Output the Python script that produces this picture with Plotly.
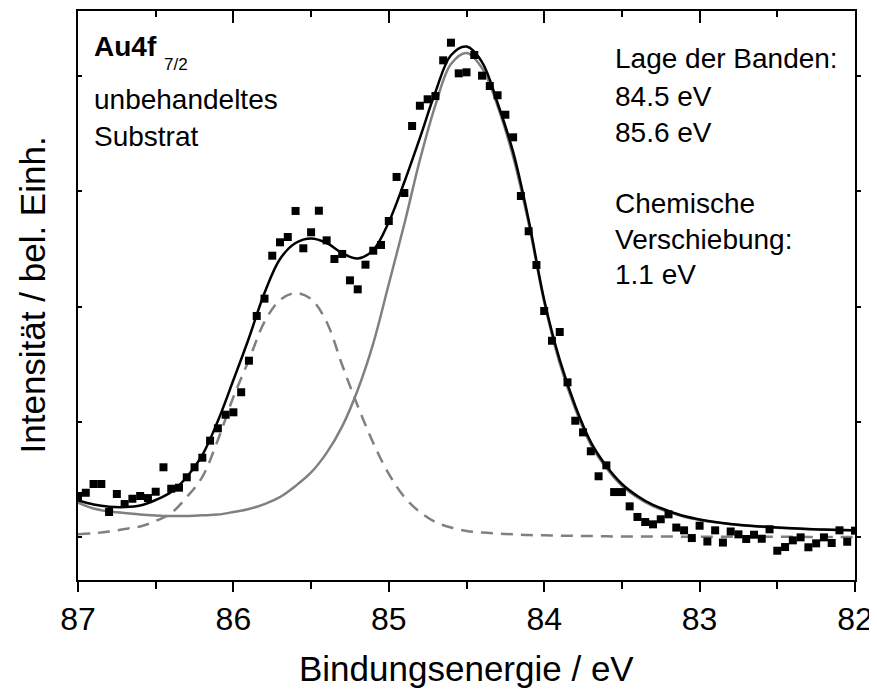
import plotly.graph_objects as go

# ---------------- data ----------------
energy_pts = [87.00, 86.95, 86.90, 86.85, 86.80, 86.75, 86.70, 86.65, 86.60, 86.55,
              86.50, 86.45, 86.40, 86.35, 86.30, 86.25, 86.20, 86.15, 86.10, 86.05,
              86.00, 85.95, 85.90, 85.85, 85.80, 85.75, 85.70, 85.65, 85.60, 85.55,
              85.50, 85.45, 85.40, 85.35, 85.30, 85.25, 85.20, 85.15, 85.10, 85.05,
              85.00, 84.95, 84.90, 84.85, 84.80, 84.75, 84.70, 84.65, 84.60, 84.55,
              84.50, 84.45, 84.40, 84.35, 84.30, 84.25, 84.20, 84.15, 84.10, 84.05,
              84.00, 83.95, 83.90, 83.85, 83.80, 83.75, 83.70, 83.65, 83.60, 83.55,
              83.50, 83.45, 83.40, 83.35, 83.30, 83.25, 83.20, 83.15, 83.10, 83.05,
              83.00, 82.95, 82.90, 82.85, 82.80, 82.75, 82.70, 82.65, 82.60, 82.55,
              82.50, 82.45, 82.40, 82.35, 82.30, 82.25, 82.20, 82.15, 82.10, 82.05,
              82.00]

intensity_pts = [0.356, 0.384, 0.460, 0.460, 0.217, 0.373, 0.286, 0.332, 0.356, 0.338,
                 0.393, 0.605, 0.419, 0.428, 0.518, 0.605, 0.688, 0.836, 0.943, 1.061,
                 1.082, 1.256, 1.530, 1.918, 2.068, 2.441, 2.557, 2.603, 2.829, 2.505,
                 2.644, 2.831, 2.574, 2.412, 2.456, 2.227, 2.149, 2.363, 2.484, 2.534,
                 2.742, 3.124, 2.985, 3.566, 3.742, 3.798, 3.826, 4.136, 4.289, 4.023,
                 4.032, 4.182, 4.003, 3.913, 3.833, 3.664, 3.468, 2.959, 2.653, 2.360,
                 1.961, 1.703, 1.779, 1.342, 1.009, 0.908, 0.744, 0.527, 0.622, 0.390,
                 0.390, 0.266, 0.174, 0.130, 0.110, 0.154, 0.197, 0.082, 0.058, -0.009,
                 0.098, -0.039, 0.058, -0.048, 0.048, 0.023, -0.017, 0.020, -0.015, 0.067,
                 -0.119, -0.087, -0.029, -0.003, -0.089, -0.055, -0.003, -0.052, 0.058, -0.041,
                 0.055]

energy_fit = [87.0, 86.9, 86.8, 86.7, 86.6, 86.5, 86.4, 86.3, 86.2, 86.1,
              86.0, 85.9, 85.8, 85.7, 85.6, 85.5, 85.4, 85.3, 85.2, 85.1,
              85.0, 84.9, 84.8, 84.7, 84.6, 84.5, 84.4, 84.3, 84.2, 84.1,
              84.0, 83.9, 83.8, 83.7, 83.6, 83.5, 83.4, 83.3, 83.2, 83.1,
              83.0, 82.9, 82.8, 82.7, 82.6, 82.5, 82.4, 82.3, 82.2, 82.1,
              82.0]

fit_total = [0.317, 0.282, 0.263, 0.260, 0.273, 0.321, 0.390, 0.521, 0.711, 1.007,
             1.362, 1.727, 2.117, 2.412, 2.551, 2.590, 2.551, 2.464, 2.416, 2.490,
             2.733, 3.080, 3.462, 3.861, 4.180, 4.255, 4.121, 3.766, 3.341, 2.751,
             2.056, 1.536, 1.137, 0.824, 0.616, 0.460, 0.356, 0.278, 0.226, 0.182,
             0.152, 0.130, 0.113, 0.100, 0.091, 0.082, 0.075, 0.069, 0.065, 0.061,
             0.058]

fit_peak_845 = [0.298, 0.247, 0.221, 0.208, 0.195, 0.187, 0.182, 0.182, 0.188, 0.195,
                0.217, 0.243, 0.286, 0.347, 0.443, 0.560, 0.730, 0.960, 1.276, 1.680,
                2.195, 2.716, 3.271, 3.748, 4.104, 4.200, 4.069, 3.740, 3.300, 2.720,
                2.039, 1.506, 1.111, 0.802, 0.599, 0.445, 0.344, 0.268, 0.218, 0.176,
                0.148, 0.127, 0.110, 0.098, 0.089, 0.080, 0.074, 0.068, 0.064, 0.060,
                0.058]

fit_peak_856 = [0.023, 0.032, 0.048, 0.069, 0.091, 0.139, 0.208, 0.347, 0.521, 0.842,
                1.215, 1.536, 1.866, 2.056, 2.117, 2.065, 1.866, 1.492, 1.137, 0.816,
                0.547, 0.347, 0.217, 0.130, 0.082, 0.052, 0.039, 0.030, 0.023, 0.017,
                0.015, 0.012, 0.010, 0.008, 0.006, 0.005, 0.005, 0.004, 0.004, 0.003,
                0.003, 0.003, 0.002, 0.002, 0.002, 0.002, 0.002, 0.001, 0.001, 0.001,
                0.001]

x_ticks = [87, 86, 85, 84, 83, 82]
x_ticktext = ["87", "86", "85", "84", "83", "82"]
y_ticks = [0, 1, 2, 3, 4]

FONT = "Arial, 'Liberation Sans', sans-serif"
GRAY = "#808080"

fig = go.Figure()

fig.add_trace(go.Scatter(x=energy_fit, y=fit_peak_856, mode="lines",
                         line=dict(color=GRAY, width=2.5, dash="12px,8px", shape="spline"),
                         showlegend=False, hoverinfo="skip"))
fig.add_trace(go.Scatter(x=energy_fit, y=fit_peak_845, mode="lines",
                         line=dict(color=GRAY, width=2.5, shape="spline"),
                         showlegend=False, hoverinfo="skip"))
fig.add_trace(go.Scatter(x=energy_fit, y=fit_total, mode="lines",
                         line=dict(color="black", width=2.5, shape="spline"),
                         showlegend=False, hoverinfo="skip"))
fig.add_trace(go.Scatter(x=energy_pts, y=intensity_pts, mode="markers",
                         marker=dict(symbol="square", size=8, color="black"),
                         showlegend=False))
# invisible helper so the mirrored axes (top / right) are drawn
fig.add_trace(go.Scatter(x=energy_pts[:1], y=intensity_pts[:1], mode="markers",
                         marker=dict(opacity=0), xaxis="x2", yaxis="y2",
                         showlegend=False, hoverinfo="skip"))

xr = [87, 82]
yr = [-0.373, 4.564]

# the page body has an 8px margin, so the figure is drawn 8px smaller/shifted
fig.update_layout(
    width=869, height=692,
    margin=dict(l=70, r=22, t=3, b=120),
    paper_bgcolor="white", plot_bgcolor="white",
    font=dict(family=FONT, color="black"),
    xaxis=dict(range=xr, showgrid=False, zeroline=False,
               showline=True, linecolor="black", linewidth=2,
               tickmode="array", tickvals=x_ticks, ticktext=x_ticktext,
               ticks="outside", ticklen=10, tickwidth=2, tickcolor="black",
               tickfont=dict(size=32, family=FONT),
               minor=dict(dtick=0.5, tick0=82, ticks="outside", ticklen=7,
                          tickwidth=2, tickcolor="black")),
    yaxis=dict(range=yr, showgrid=False, zeroline=False,
               showline=True, linecolor="black", linewidth=2,
               tickmode="array", tickvals=y_ticks, showticklabels=False,
               ticks="inside", ticklen=4, tickwidth=2, tickcolor="black"),
    xaxis2=dict(range=xr, overlaying="x", side="top", anchor="y2",
                showgrid=False, zeroline=False,
                showline=True, linecolor="black", linewidth=2,
                tickmode="array", tickvals=x_ticks, showticklabels=False,
                ticks="inside", ticklen=12, tickwidth=2, tickcolor="black",
                minor=dict(dtick=0.5, tick0=82, ticks="inside", ticklen=6,
                           tickwidth=2, tickcolor="black")),
    yaxis2=dict(range=yr, overlaying="y", side="right", anchor="x2",
                showgrid=False, zeroline=False,
                showline=True, linecolor="black", linewidth=2,
                tickmode="array", tickvals=y_ticks, showticklabels=False,
                ticks="outside", ticklen=4, tickwidth=2, tickcolor="black"),
)

# helpers: screen pixel (reference) -> paper fraction of the plot area
def px_x(px):
    return (px - 78) / 777.0

def px_y(py):
    return (580 - py) / 569.0

annos = []
annos.append(dict(text="Bindungsenergie / eV", x=0.5, y=px_y(668), xref="paper", yref="paper",
                  showarrow=False, xanchor="center", yanchor="middle",
                  font=dict(size=35, family=FONT)))
annos.append(dict(text="Intensität / bel. Einh.", x=px_x(32), y=0.5, xref="paper", yref="paper",
                  showarrow=False, xanchor="center", yanchor="middle", textangle=-90,
                  font=dict(size=35, family=FONT)))
annos.append(dict(text="<b>Au4f</b>", x=px_x(92), y=px_y(47), xref="paper", yref="paper",
                  showarrow=False, xanchor="left", yanchor="middle",
                  font=dict(size=28, family=FONT)))
annos.append(dict(text="7/2", x=px_x(162), y=px_y(64), xref="paper", yref="paper",
                  showarrow=False, xanchor="left", yanchor="middle",
                  font=dict(size=17, family=FONT)))
for txt, yc in [("unbehandeltes", 99), ("Substrat", 137)]:
    annos.append(dict(text=txt, x=px_x(92), y=px_y(yc), xref="paper", yref="paper",
                      showarrow=False, xanchor="left", yanchor="middle",
                      font=dict(size=28, family=FONT)))
for txt, yc in [("Lage der Banden:", 59), ("84.5 eV", 96), ("85.6 eV", 132),
                ("Chemische", 203), ("Verschiebung:", 239), ("1.1 eV", 274)]:
    annos.append(dict(text=txt, x=px_x(613), y=px_y(yc), xref="paper", yref="paper",
                      showarrow=False, xanchor="left", yanchor="middle",
                      font=dict(size=28, family=FONT)))
fig.update_layout(annotations=annos)

fig.write_html("out.html")
